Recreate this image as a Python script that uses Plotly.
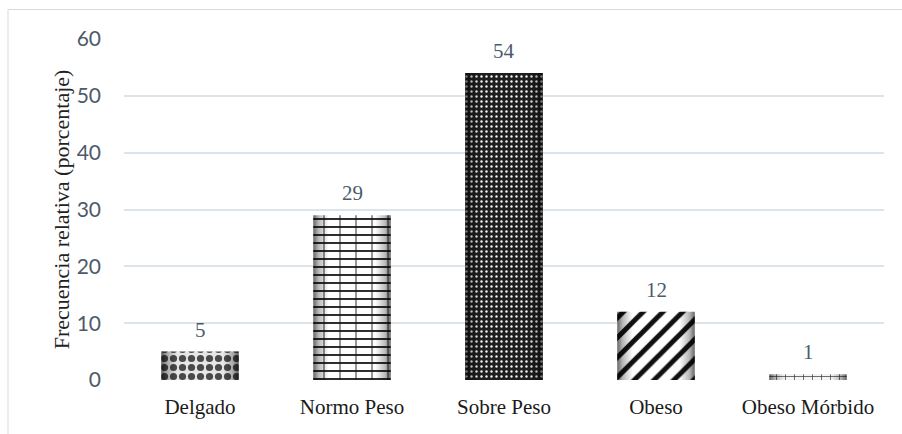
import plotly.graph_objects as go

# Frequency distribution by BMI category
categories = ["Delgado", "Normo Peso", "Sobre Peso", "Obeso", "Obeso Mórbido"]
values = [5, 29, 54, 12, 1]
y_ticks = [0, 10, 20, 30, 40, 50, 60]

# Per-bar fill patterns
pat_shapes = [".", "-", ".", "/", "+"]
pat_fg = ["#4a4a4a", "#111111", "#f5f5f5", "#111111", "#333333"]
pat_bg = ["#e6e6e6", "#ffffff", "#1e1e1e", "#ffffff", "#f4f4f4"]
pat_size = [9, 8, 5, 14, 9]
pat_solid = [0.5, 0.22, 0.18, 0.36, 0.15]
# second pattern layer (vertical joints of the brick fill)
over_shapes = [None, "|", None, None, None]
over_size = [None, 16, None, None, None]
over_solid = [None, 0.11, None, None, None]

BAR_W = 0.51
W, H = 902, 434
M_L, M_R, M_T, M_B = 124, 18, 39, 54
SERIF = "Liberation Serif"

xs = list(range(len(categories)))

fig = go.Figure()
for i, (x, v) in enumerate(zip(xs, values)):
    fig.add_trace(go.Bar(
        x=[x], y=[v], width=BAR_W,
        marker=dict(
            color=pat_bg[i],
            line=dict(width=0),
            pattern=dict(shape=pat_shapes[i], fgcolor=pat_fg[i],
                         bgcolor=pat_bg[i], size=pat_size[i],
                         solidity=pat_solid[i], fillmode="replace"),
        ),
        hoverinfo="skip", showlegend=False,
    ))
    if over_shapes[i]:
        fig.add_trace(go.Bar(
            x=[x], y=[v], width=BAR_W,
            marker=dict(
                color="rgba(0,0,0,0)",
                line=dict(width=0),
                pattern=dict(shape=over_shapes[i], fgcolor=pat_fg[i],
                             bgcolor="rgba(0,0,0,0)", size=over_size[i],
                             solidity=over_solid[i], fillmode="overlay"),
            ),
            hoverinfo="skip", showlegend=False,
        ))

# cylinder-like shading on each bar
shade = [[0.0, "rgba(0,0,0,0.6)"], [0.07, "rgba(0,0,0,0.28)"],
         [0.2, "rgba(0,0,0,0)"], [0.8, "rgba(0,0,0,0)"],
         [0.93, "rgba(0,0,0,0.28)"], [1.0, "rgba(0,0,0,0.6)"]]
for x, v in zip(xs, values):
    x0, x1 = x - BAR_W / 2, x + BAR_W / 2
    fig.add_trace(go.Scatter(
        x=[x0, x1, x1, x0, x0], y=[0, 0, v, v, 0],
        mode="lines", line=dict(width=0), fill="toself",
        fillgradient=dict(type="horizontal", colorscale=shade),
        hoverinfo="skip", showlegend=False,
    ))

# value labels above bars
for x, v in zip(xs, values):
    fig.add_annotation(x=x, y=v, text=str(v), showarrow=False,
                       yanchor="bottom", yshift=8,
                       font=dict(family=SERIF, size=21, color="#4d5a6c"))

# outer chart border (left and top visible)
plot_w = W - M_L - M_R
plot_h = H - M_T - M_B
bx0 = (8 - M_L) / plot_w
by1 = (H - M_B - 9.5) / plot_h
fig.add_shape(type="rect", xref="paper", yref="paper",
              x0=bx0, x1=1.2, y0=-0.5, y1=by1,
              line=dict(color="#d9d9d9", width=1), fillcolor="rgba(0,0,0,0)",
              layer="below")

fig.update_layout(
    width=W, height=H,
    margin=dict(l=M_L, r=M_R, t=M_T, b=M_B),
    plot_bgcolor="white", paper_bgcolor="white",
    showlegend=False, barmode="overlay",
    xaxis=dict(
        range=[-0.5, len(categories) - 0.5],
        tickvals=xs, ticktext=categories,
        tickfont=dict(family=SERIF, size=21, color="#1a1a1a"),
        showgrid=False, zeroline=False, showline=False, ticks="",
        ticklabelstandoff=12,
    ),
    yaxis=dict(
        range=[0, 60], tickvals=y_ticks,
        tickfont=dict(family="Lato", size=21, color="#4d5a6c"),
        showgrid=True, gridcolor="#dde3ea", gridwidth=1.5,
        zeroline=False, showline=False, ticks="",
        ticklabelstandoff=22,
        title=dict(text="Frecuencia relativa (porcentaje)",
                   font=dict(family=SERIF, size=22, color="#222222"),
                   standoff=0),
    ),
)

fig.write_html("out.html")
